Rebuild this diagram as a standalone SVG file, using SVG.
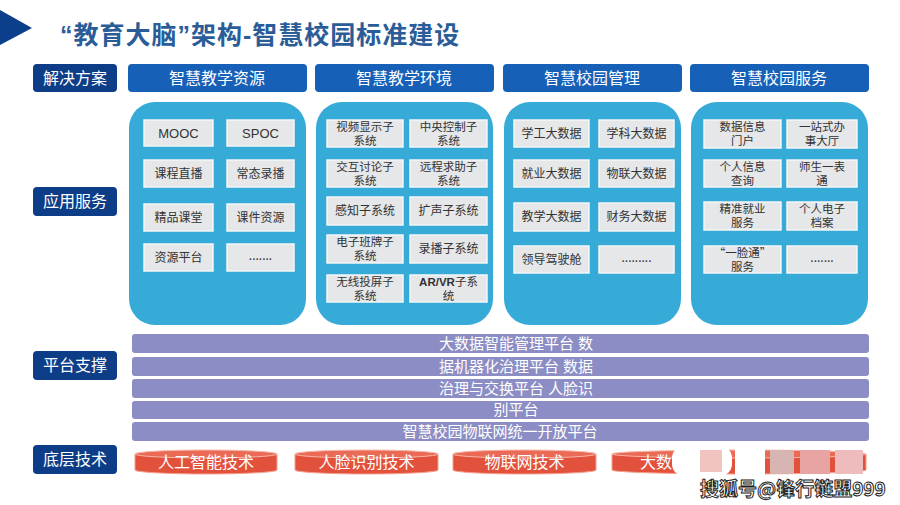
<svg xmlns="http://www.w3.org/2000/svg" width="900" height="505" viewBox="0 0 900 505">
<style>
text{font-family:"Liberation Sans","Noto Sans CJK SC",sans-serif}
.lab{fill:#0d3d87}
.hdr{fill:#1660b8}
.lt{fill:#fff;font-size:16px;text-anchor:middle}
.col{fill:#36abd7}
.it{fill:#e5e7e9;stroke:#f4f6f7;stroke-width:1.5}
.itx{fill:#333;font-size:12px;text-anchor:middle;font-family:"Noto Sans CJK SC","Liberation Serif",serif}
.i2{font-size:11.5px}
.bar{fill:#8b8dc4}
.btx{fill:#fff;font-size:15px;text-anchor:middle}
.cylb{fill:#e2513c;stroke:#f4a090;stroke-width:1}
.cylt{fill:#ea6a56;stroke:#f7b8ab;stroke-width:1}
.ctx{fill:#fff;font-size:16px;text-anchor:middle;font-family:"Noto Sans CJK SC","Liberation Serif",serif}
</style>
<rect width="900" height="505" fill="#fff"/>
<g id="title">
<polygon points="0,10 32,28 0,45" fill="#0b3f8c"/>
<text x="60" y="44" font-size="25" font-weight="bold" letter-spacing="1" fill="#2a5d98">“教育大脑”架构-智慧校园标准建设</text>
</g>
<g id="label-solution"><rect class="lab" x="33" y="64" width="84" height="28" rx="4"/><text class="lt" x="75" y="84">解决方案</text></g>
<g id="label-app"><rect class="lab" x="33" y="187" width="84" height="29" rx="4"/><text class="lt" x="75" y="207">应用服务</text></g>
<g id="label-platform"><rect class="lab" x="33" y="351" width="84" height="29" rx="4"/><text class="lt" x="75" y="371">平台支撑</text></g>
<g id="label-tech"><rect class="lab" x="33" y="445" width="84" height="29" rx="4"/><text class="lt" x="75" y="465">底层技术</text></g>

<g id="hdr1"><rect class="hdr" x="128" y="64" width="179" height="28" rx="4"/><text class="lt" x="217" y="84">智慧教学资源</text></g>
<g id="hdr2"><rect class="hdr" x="315" y="64" width="179" height="28" rx="4"/><text class="lt" x="404" y="84">智慧教学环境</text></g>
<g id="hdr3"><rect class="hdr" x="503" y="64" width="179" height="28" rx="4"/><text class="lt" x="592" y="84">智慧校园管理</text></g>
<g id="hdr4"><rect class="hdr" x="690" y="64" width="179" height="28" rx="4"/><text class="lt" x="779" y="84">智慧校园服务</text></g>

<g id="col1">
<rect class="col" x="129" y="102" width="177" height="223" rx="26"/>
<rect class="it" x="144" y="120" width="69" height="26"/><text class="itx" x="178.5" y="138" style="font-family:'Liberation Sans',sans-serif;font-size:13px">MOOC</text>
<rect class="it" x="227" y="120" width="67" height="26"/><text class="itx" x="260.5" y="138" style="font-family:'Liberation Sans',sans-serif;font-size:13px">SPOC</text>
<rect class="it" x="144" y="160" width="69" height="27"/><text class="itx" x="178.5" y="178">课程直播</text>
<rect class="it" x="227" y="160" width="67" height="27"/><text class="itx" x="260.5" y="178">常态录播</text>
<rect class="it" x="144" y="204" width="69" height="27"/><text class="itx" x="178.5" y="222">精品课堂</text>
<rect class="it" x="227" y="204" width="67" height="27"/><text class="itx" x="260.5" y="222">课件资源</text>
<rect class="it" x="144" y="244" width="69" height="27"/><text class="itx" x="178.5" y="262">资源平台</text>
<rect class="it" x="227" y="244" width="67" height="27"/><text class="itx" x="260.5" y="260">.......</text>
</g>

<g id="col2">
<rect class="col" x="316" y="102" width="177" height="223" rx="26"/>
<rect class="it" x="327" y="120" width="76" height="27"/><text class="itx i2" x="365" y="131">视频显示子<tspan x="365" dy="14">系统</tspan></text>
<rect class="it" x="410" y="120" width="77" height="27"/><text class="itx i2" x="448.5" y="131">中央控制子<tspan x="448.5" dy="14">系统</tspan></text>
<rect class="it" x="327" y="160" width="76" height="27"/><text class="itx i2" x="365" y="171">交互讨论子<tspan x="365" dy="14">系统</tspan></text>
<rect class="it" x="410" y="160" width="77" height="27"/><text class="itx i2" x="448.5" y="171">远程求助子<tspan x="448.5" dy="14">系统</tspan></text>
<rect class="it" x="327" y="197" width="76" height="28"/><text class="itx" x="365" y="215">感知子系统</text>
<rect class="it" x="410" y="197" width="77" height="28"/><text class="itx" x="448.5" y="215">扩声子系统</text>
<rect class="it" x="327" y="235" width="76" height="28"/><text class="itx i2" x="365" y="246">电子班牌子<tspan x="365" dy="14">系统</tspan></text>
<rect class="it" x="410" y="235" width="77" height="28"/><text class="itx" x="448.5" y="253">录播子系统</text>
<rect class="it" x="327" y="275" width="76" height="27"/><text class="itx i2" x="365" y="286">无线投屏子<tspan x="365" dy="14">系统</tspan></text>
<rect class="it" x="410" y="275" width="77" height="27"/><text class="itx i2" x="448.5" y="286"><tspan style="font-family:'Liberation Sans',sans-serif;font-weight:bold">AR/VR</tspan>子系<tspan x="448.5" dy="14">统</tspan></text>
</g>

<g id="col3">
<rect class="col" x="504" y="102" width="177" height="223" rx="26"/>
<rect class="it" x="514" y="120" width="75" height="27"/><text class="itx" x="551.5" y="138">学工大数据</text>
<rect class="it" x="599" y="120" width="75" height="27"/><text class="itx" x="636.5" y="138">学科大数据</text>
<rect class="it" x="514" y="160" width="75" height="27"/><text class="itx" x="551.5" y="178">就业大数据</text>
<rect class="it" x="599" y="160" width="75" height="27"/><text class="itx" x="636.5" y="178">物联大数据</text>
<rect class="it" x="514" y="203" width="75" height="28"/><text class="itx" x="551.5" y="221">教学大数据</text>
<rect class="it" x="599" y="203" width="75" height="28"/><text class="itx" x="636.5" y="221">财务大数据</text>
<rect class="it" x="514" y="246" width="75" height="27"/><text class="itx" x="551.5" y="264">领导驾驶舱</text>
<rect class="it" x="599" y="246" width="75" height="27"/><text class="itx" x="636.5" y="262">.........</text>
</g>

<g id="col4">
<rect class="col" x="691" y="102" width="177" height="223" rx="26"/>
<rect class="it" x="704" y="120" width="77" height="28"/><text class="itx i2" x="742.5" y="131">数据信息<tspan x="742.5" dy="14">门户</tspan></text>
<rect class="it" x="787" y="120" width="70" height="28"/><text class="itx i2" x="822" y="131">一站式办<tspan x="822" dy="14">事大厅</tspan></text>
<rect class="it" x="704" y="160" width="77" height="27"/><text class="itx i2" x="742.5" y="171">个人信息<tspan x="742.5" dy="14">查询</tspan></text>
<rect class="it" x="787" y="160" width="70" height="27"/><text class="itx i2" x="822" y="171">师生一表<tspan x="822" dy="14">通</tspan></text>
<rect class="it" x="704" y="202" width="77" height="28"/><text class="itx i2" x="742.5" y="213">精准就业<tspan x="742.5" dy="14">服务</tspan></text>
<rect class="it" x="787" y="202" width="70" height="28"/><text class="itx i2" x="822" y="213">个人电子<tspan x="822" dy="14">档案</tspan></text>
<rect class="it" x="704" y="246" width="77" height="27"/><text class="itx i2" x="742.5" y="257">“一脸通”<tspan x="742.5" dy="14">服务</tspan></text>
<rect class="it" x="787" y="246" width="70" height="27"/><text class="itx" x="822" y="262">.......</text>
</g>

<g id="platform">
<rect class="bar" x="132" y="334" width="737" height="19" rx="3"/><text class="btx" x="516" y="349">大数据智能管理平台 数</text>
<rect class="bar" x="132" y="357" width="737" height="19" rx="3"/><text class="btx" x="516" y="372">据机器化治理平台 数据</text>
<rect class="bar" x="132" y="379" width="737" height="19" rx="3"/><text class="btx" x="516" y="394">治理与交换平台 人脸识</text>
<rect class="bar" x="132" y="401" width="737" height="18" rx="3"/><text class="btx" x="516" y="415">别平台</text>
<rect class="bar" x="132" y="422" width="737" height="19" rx="3"/><text class="btx" x="500" y="437">智慧校园物联网统一开放平台</text>
</g>

<g id="tech1"><path class="cylb" d="M135,454 V470 A71,4 0 0 0 277,470 V454 Z"/><ellipse class="cylt" cx="206" cy="454" rx="71" ry="4"/><text class="ctx" x="206" y="468">人工智能技术</text></g>
<g id="tech2"><path class="cylb" d="M295,454 V470 A71.5,4 0 0 0 438,470 V454 Z"/><ellipse class="cylt" cx="366.5" cy="454" rx="71.5" ry="4"/><text class="ctx" x="366.5" y="468">人脸识别技术</text></g>
<g id="tech3"><path class="cylb" d="M453,454 V470 A71.5,4 0 0 0 596,470 V454 Z"/><ellipse class="cylt" cx="524.5" cy="454" rx="71.5" ry="4"/><text class="ctx" x="524.5" y="468">物联网技术</text></g>
<g id="tech4"><path class="cylb" d="M612,454 V470 A127,4 0 0 0 866,470 V454 Z"/><ellipse class="cylt" cx="739" cy="454" rx="127" ry="4"/><text class="ctx" x="640" y="468" style="text-anchor:start">大数</text></g>
<g id="watermark">
<rect x="672" y="446" width="60" height="30" rx="12" fill="#fff"/>
<rect x="700" y="450" width="22" height="22" fill="#f2c4c0"/>
<rect x="735" y="448" width="30" height="28" fill="#fff"/>
<rect x="770" y="450" width="24" height="24" fill="#d6b5b2"/>
<rect x="800" y="450" width="30" height="24" fill="#e8a3a3"/>
<rect x="835" y="450" width="28" height="24" fill="#eebcbc"/>
<text x="700" y="496" font-size="19" font-weight="bold" fill="#fff" stroke="#222" stroke-width="1" style="font-family:'Noto Sans CJK SC',sans-serif">搜狐号@锋行链盟999</text>
</g>
</svg>
